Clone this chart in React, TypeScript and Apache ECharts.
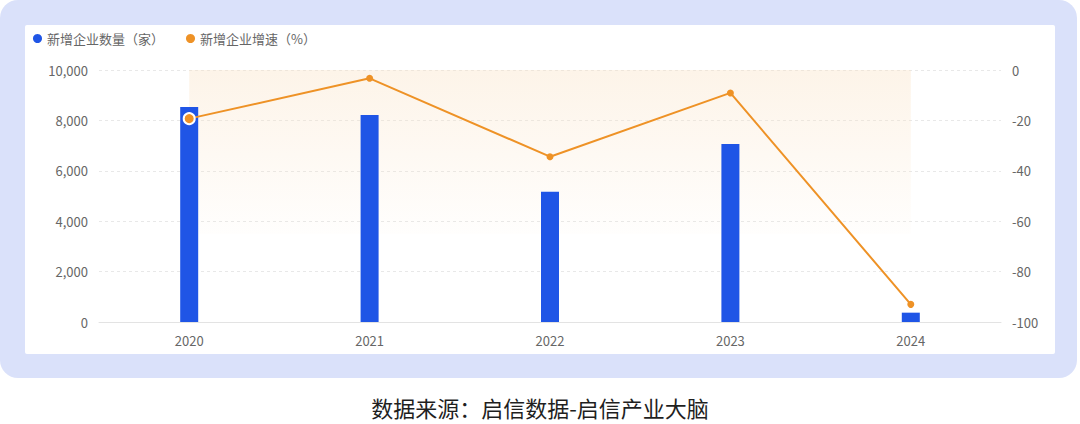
import React, { useEffect, useRef } from "react";
import * as echarts from "echarts";

const years = ["2020", "2021", "2022", "2023", "2024"];
const newCompanies = [8530, 8210, 5170, 7060, 370];
const growthRate = [-19.3, -3.3, -34.4, -9.1, -93.0];

const FONT = "'Noto Sans CJK SC', 'Noto Sans', sans-serif";

const App = () => {
  const chartRef = useRef<HTMLDivElement>(null);

  useEffect(() => {
    if (!chartRef.current) return;
    const chart = echarts.init(chartRef.current, undefined, { renderer: "svg" });

    const option: echarts.EChartsCoreOption = {
      animation: false,
      textStyle: { fontFamily: FONT },
      graphic: [
        {
          type: "rect",
          z: -20,
          shape: { x: 0, y: 0, width: 1077, height: 378, r: 18 },
          style: { fill: "#DAE1FA" },
        },
        {
          type: "rect",
          z: -19,
          shape: { x: 25, y: 25, width: 1030, height: 329, r: 2 },
          style: { fill: "#ffffff" },
        },
        {
          type: "text",
          x: 540,
          y: 407,
          style: {
            text: "数据来源：启信数据-启信产业大脑",
            fill: "#1f1f1f",
            fontSize: 22,
            fontFamily: FONT,
            align: "center",
            verticalAlign: "middle",
          },
        },
      ],
      legend: {
        left: 28,
        top: 27,
        icon: "circle",
        itemWidth: 9,
        itemHeight: 9,
        itemGap: 22,
        textStyle: { fontSize: 13, color: "#666", fontFamily: FONT },
        data: ["新增企业数量（家）", "新增企业增速（%）"],
      },
      grid: { left: 99, right: 79, top: 70, bottom: 102 },
      xAxis: {
        type: "category",
        data: years,
        axisLine: { lineStyle: { color: "#E3E3E3" } },
        axisTick: { show: false },
        axisLabel: { color: "#666", fontSize: 13, margin: 12 },
      },
      yAxis: [
        {
          type: "value",
          min: 0,
          max: 10000,
          interval: 2000,
          axisLine: { show: false },
          axisTick: { show: false },
          axisLabel: {
            color: "#666",
            fontSize: 13,
            margin: 11,
            formatter: (v: number) => v.toLocaleString("en-US"),
          },
          splitLine: { lineStyle: { color: "#E8E8E8", type: [3, 3] } },
        },
        {
          type: "value",
          min: -100,
          max: 0,
          interval: 20,
          axisLine: { show: false },
          axisTick: { show: false },
          axisLabel: { color: "#666", fontSize: 13, margin: 11 },
          splitLine: { show: false },
        },
      ],
      series: [
        {
          name: "新增企业数量（家）",
          type: "bar",
          barWidth: 18,
          itemStyle: { color: "#1F55E6" },
          data: newCompanies,
        },
        {
          name: "新增企业增速（%）",
          type: "line",
          yAxisIndex: 1,
          symbol: "circle",
          symbolSize: 7,
          itemStyle: { color: "#EE9226" },
          lineStyle: { color: "#EE9226", width: 2 },
          data: growthRate.map((v, i) =>
            i === 0
              ? {
                  value: v,
                  symbolSize: 11,
                  itemStyle: { borderColor: "#fff", borderWidth: 2 },
                }
              : v
          ),
          markArea: {
            silent: true,
            itemStyle: {
              color: new echarts.graphic.LinearGradient(0, 0, 0, 1, [
                { offset: 0, color: "rgba(250, 226, 196, 0.38)" },
                { offset: 1, color: "rgba(250, 226, 196, 0.04)" },
              ]),
            },
            data: [[{ xAxis: "2020", yAxis: 0 }, { xAxis: "2024", yAxis: -65 }]],
          },
        },
      ],
    };

    chart.setOption(option);

    return () => {
      chart.dispose();
    };
  }, []);

  return (
    <div
      ref={chartRef}
      style={{ position: "fixed", left: 0, top: 0, width: 1080, height: 424, background: "#fff" }}
    />
  );
};

export default App;
